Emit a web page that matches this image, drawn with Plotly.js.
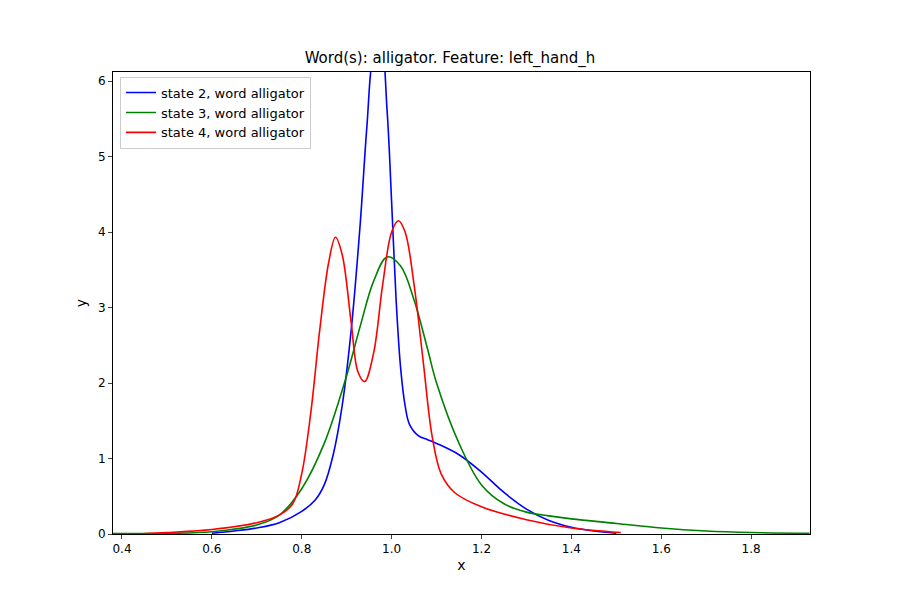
<!DOCTYPE html>
<html><head><script src="https://cdn.plot.ly/plotly-3.0.1.min.js"></script></head>
<body style="margin:0"><div id="c" style="width:900px;height:600px"></div>
<script>
const x2=[0.6,0.65,0.7,0.75,0.8,0.83,0.85,0.87,0.89,0.91,0.93,0.945,0.96,0.975,0.99,1.0,1.01,1.02,1.03,1.04,1.06,1.08,1.1,1.15,1.2,1.25,1.3,1.35,1.4,1.45,1.5];
const y2=[0.01,0.04,0.08,0.15,0.3,0.45,0.65,1.05,1.7,2.7,4.1,5.4,6.4,6.6,5.6,4.4,3.1,2.2,1.7,1.45,1.3,1.25,1.2,1.05,0.82,0.55,0.33,0.18,0.09,0.04,0.01];
const x3=[0.38,0.5,0.6,0.7,0.75,0.8,0.85,0.9,0.93,0.96,0.99,1.02,1.05,1.08,1.1,1.15,1.2,1.25,1.3,1.35,1.4,1.5,1.6,1.7,1.8,1.93];
const y3=[0.005,0.01,0.03,0.12,0.25,0.6,1.2,2.1,2.75,3.35,3.67,3.55,3.1,2.45,2.0,1.2,0.65,0.4,0.29,0.24,0.2,0.14,0.08,0.04,0.02,0.01];
const x4=[0.45,0.5,0.6,0.7,0.75,0.78,0.8,0.82,0.84,0.86,0.875,0.89,0.91,0.925,0.94,0.96,0.98,1.0,1.015,1.03,1.05,1.07,1.09,1.11,1.14,1.2,1.3,1.4,1.51];
const y4=[0.005,0.02,0.06,0.15,0.25,0.4,0.8,1.6,2.7,3.6,3.93,3.7,2.8,2.15,2.02,2.4,3.3,4.0,4.15,4.0,3.3,2.3,1.3,0.8,0.55,0.36,0.19,0.08,0.02];
const names=['state 2, word alligator','state 3, word alligator','state 4, word alligator'];
const mk=(x,y,n,c)=>({x,y,name:n,mode:'lines',line:{color:c,width:1.6,shape:'spline'}});
Plotly.newPlot('c',[mk(x2,y2,names[0],'blue'),mk(x3,y3,names[1],'green'),mk(x4,y4,names[2],'red')],{
width:900,height:600,paper_bgcolor:'white',plot_bgcolor:'white',
font:{family:'DejaVu Sans',size:12,color:'black'},
title:{text:'Word(s): alligator. Feature: left_hand_h',x:0.5,y:0.903,yanchor:'middle',font:{size:15}},
margin:{l:113,r:90,t:72,b:66},
xaxis:{range:[0.38,1.931],dtick:0.2,tick0:0.4,tickformat:'.1f',showgrid:false,zeroline:false,showline:true,mirror:true,linecolor:'black',ticks:'outside',ticklen:4,title:{text:'x',standoff:4}},
yaxis:{range:[0,6.12],dtick:1,showgrid:false,zeroline:false,showline:true,mirror:true,linecolor:'black',ticks:'outside',ticklen:4,title:{text:'y',standoff:8}},
legend:{x:0.01,y:0.99,bordercolor:'#ccc',borderwidth:1,bgcolor:'white',font:{size:13}},showlegend:true
},{displayModeBar:false});
</script></body></html>
